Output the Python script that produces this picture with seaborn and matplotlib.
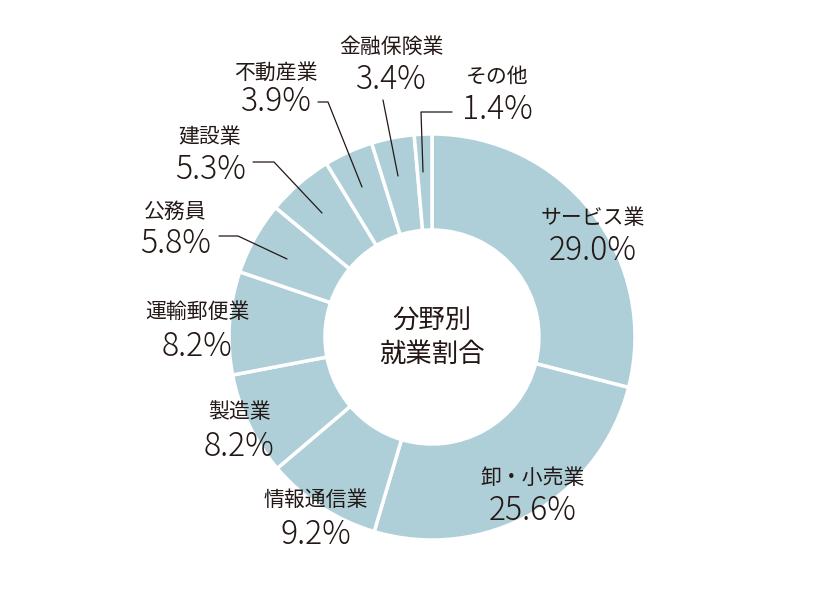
import matplotlib
matplotlib.use("Agg")
import matplotlib.pyplot as plt
import seaborn as sns

categories = ["サービス業", "卸・小売業", "情報通信業", "製造業", "運輸郵便業",
              "公務員", "建設業", "不動産業", "金融保険業", "その他"]
values = [29.0, 25.6, 9.2, 8.2, 8.2, 5.8, 5.3, 3.9, 3.4, 1.4]
pct_labels = ["29.0%", "25.6%", "9.2%", "8.2%", "8.2%", "5.8%", "5.3%", "3.9%", "3.4%", "1.4%"]
center_title = "分野別\n就業割合"

# label anchor positions in pixels (x center, y of name, y of pct)
label_pos = [(593, 218, 251), (533, 478, 511), (316, 500, 535), (239, 412, 447),
             (197, 312, 347), (175, 212, 244), (210, 137, 170), (276, 73, 102),
             (391, 47, 80), (497, 77, 110)]
# leader lines (pixel polylines)
leaders = [
    [(219, 236), (238, 236), (287, 259)],
    [(253, 162), (274, 162), (322, 213)],
    [(318, 102), (328, 102), (362, 187)],
    [(383, 100), (398, 176)],
    [(452, 112), (421, 112), (423, 172)],
]

sns.set_theme(style="white")
plt.rcParams['font.family'] = ['Noto Sans CJK JP', 'DejaVu Sans']

W, H = 835, 590
fig = plt.figure(figsize=(W / 100, H / 100), dpi=100)
ax = fig.add_axes([0, 0, 1, 1])
ax.set_xlim(0, W)
ax.set_ylim(0, H)
ax.set_aspect('equal')
ax.axis('off')

color = "#aecfd8"
txt = "#231815"
cx, cy, R = 432, H - 337, 203
ax.pie(values, colors=[color] * len(values), startangle=90, counterclock=False,
       center=(cx, cy), radius=R,
       wedgeprops=dict(width=96, edgecolor="white", linewidth=2.5))
ax.set_xlim(0, W)
ax.set_ylim(0, H)
ax.set_aspect('equal')
ax.axis('off')

for name, pct, (x, yn, yp) in zip(categories, pct_labels, label_pos):
    ax.text(x, H - yn, name, ha='center', va='center', fontsize=15, color=txt)
    ax.text(x, H - yp, pct, ha='center', va='center', fontsize=23, color=txt,
            fontweight='light')

for pts in leaders:
    xs = [p[0] for p in pts]
    ys = [H - p[1] for p in pts]
    ax.plot(xs, ys, color=txt, lw=0.9)

ax.text(cx, H - 337, center_title, ha='center', va='center', fontsize=19,
        color=txt, linespacing=1.35)

fig.savefig("out.png", dpi=100, facecolor="white")
